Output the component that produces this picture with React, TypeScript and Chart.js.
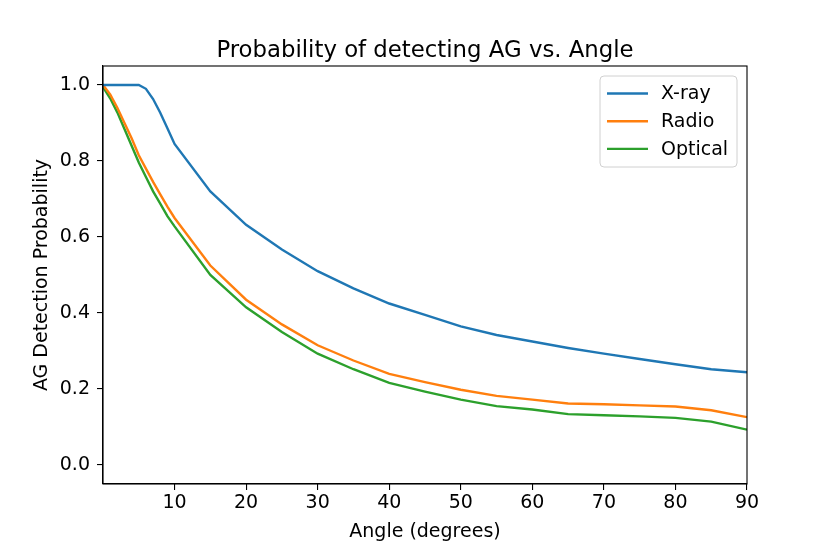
import React, { useEffect, useRef } from "react";
import { Chart, registerables } from "chart.js";

Chart.register(...registerables);

const angles = [0, 1, 2, 3, 4, 5, 6, 7, 8, 9, 10, 15, 20, 25, 30, 35, 40, 45, 50, 55, 60, 65, 70, 75, 80, 85, 90];
const xray = [1.0, 1.0, 1.0, 1.0, 1.0, 1.0, 0.99, 0.963, 0.927, 0.886, 0.845, 0.72, 0.632, 0.567, 0.51, 0.465, 0.425, 0.395, 0.365, 0.342, 0.325, 0.308, 0.293, 0.279, 0.265, 0.252, 0.244];
const radio = [1.0, 0.975, 0.94, 0.9, 0.86, 0.815, 0.78, 0.745, 0.712, 0.68, 0.65, 0.525, 0.435, 0.37, 0.315, 0.275, 0.24, 0.218, 0.198, 0.182, 0.172, 0.162, 0.16, 0.157, 0.154, 0.144, 0.126];
const optical = [0.995, 0.965, 0.928, 0.884, 0.84, 0.796, 0.758, 0.72, 0.688, 0.655, 0.628, 0.5, 0.415, 0.35, 0.293, 0.252, 0.216, 0.193, 0.172, 0.155, 0.146, 0.134, 0.131, 0.128, 0.124, 0.114, 0.093];
const xTicks = [10, 20, 30, 40, 50, 60, 70, 80, 90];
const yTicks = [0, 0.2, 0.4, 0.6, 0.8, 1.0];
const seriesNames = ["X-ray", "Radio", "Optical"];
const seriesColors = ["#1f77b4", "#ff7f0e", "#2ca02c"];
const chartTitle = "Probability of detecting AG vs. Angle";

const FONT = "'DejaVu Sans', sans-serif";

const framePlugin = {
  id: "frameAndLegend",
  afterDatasetsDraw(chart: any) {
    const { ctx, chartArea } = chart;
    ctx.save();
    // spines
    ctx.strokeStyle = "#000";
    ctx.lineWidth = 1.1;
    ctx.strokeRect(chartArea.left, chartArea.top, chartArea.right - chartArea.left, chartArea.bottom - chartArea.top);
    // title
    ctx.fillStyle = "#000";
    ctx.font = `22.8px ${FONT}`;
    ctx.textAlign = "center";
    ctx.textBaseline = "alphabetic";
    ctx.fillText(chartTitle, (chartArea.left + chartArea.right) / 2, chartArea.top - 9.5);
    // legend
    const bw = 137, bh = 91;
    const bx = chartArea.right - 10 - bw;
    const by = chartArea.top + 10;
    const r = 4;
    ctx.beginPath();
    ctx.moveTo(bx + r, by);
    ctx.lineTo(bx + bw - r, by);
    ctx.quadraticCurveTo(bx + bw, by, bx + bw, by + r);
    ctx.lineTo(bx + bw, by + bh - r);
    ctx.quadraticCurveTo(bx + bw, by + bh, bx + bw - r, by + bh);
    ctx.lineTo(bx + r, by + bh);
    ctx.quadraticCurveTo(bx, by + bh, bx, by + bh - r);
    ctx.lineTo(bx, by + r);
    ctx.quadraticCurveTo(bx, by, bx + r, by);
    ctx.closePath();
    ctx.fillStyle = "rgba(255,255,255,0.8)";
    ctx.fill();
    ctx.strokeStyle = "#d0d0d0";
    ctx.lineWidth = 1;
    ctx.stroke();
    chart.data.datasets.forEach((ds: any, i: number) => {
      const yy = by + 17.5 + i * 27.7;
      ctx.beginPath();
      ctx.strokeStyle = ds.borderColor;
      ctx.lineWidth = 2.4;
      ctx.moveTo(bx + 7, yy);
      ctx.lineTo(bx + 48, yy);
      ctx.stroke();
      ctx.fillStyle = "#000";
      ctx.font = `19px ${FONT}`;
      ctx.textBaseline = "middle";
      ctx.textAlign = "left";
      ctx.fillText(ds.label, bx + 61, yy + 1);
    });
    ctx.restore();
  },
};

export default function App() {
  const ref = useRef<HTMLCanvasElement>(null);
  useEffect(() => {
    if (!ref.current) return;
    const datasets = [xray, radio, optical].map((vals, i) => ({
      label: seriesNames[i],
      data: angles.map((a, j) => ({ x: a, y: vals[j] })),
      borderColor: seriesColors[i],
      backgroundColor: seriesColors[i],
      borderWidth: 2.4,
      pointRadius: 0,
      tension: 0,
      fill: false,
    }));
    const chart = new Chart(ref.current, {
      type: "line",
      data: { datasets },
      plugins: [framePlugin],
      options: {
        responsive: false,
        animation: false,
        layout: { padding: { left: 0, right: 83, top: 66, bottom: 0 } },
        plugins: {
          legend: { display: false },
          tooltip: { enabled: false },
          title: { display: false },
        },
        scales: {
          x: {
            type: "linear",
            min: 0,
            max: 90,
            afterBuildTicks: (s: any) => {
              s.ticks = xTicks.map((v) => ({ value: v }));
            },
            afterFit: (s: any) => {
              s.height = 70;
            },
            grid: { drawOnChartArea: false, drawTicks: true, tickLength: 6, color: "#000", lineWidth: 1.1 },
            border: { display: true, color: "#000", width: 1.1 },
            ticks: {
              color: "#000",
              font: { family: FONT, size: 19 },
              padding: 2,
              maxRotation: 0,
              autoSkip: false,
              callback: (v: any) => String(v),
            },
            title: {
              display: true,
              text: "Angle (degrees)",
              color: "#000",
              font: { family: FONT, size: 19, lineHeight: 1.2 },
              padding: { top: 0, bottom: 11 },
            },
          },
          y: {
            type: "linear",
            min: -0.05,
            max: 1.05,
            afterBuildTicks: (s: any) => {
              s.ticks = yTicks.map((v) => ({ value: v }));
            },
            afterFit: (s: any) => {
              s.width = 103;
            },
            grid: { drawOnChartArea: false, drawTicks: true, tickLength: 6, color: "#000", lineWidth: 1.1 },
            border: { display: true, color: "#000", width: 1.1 },
            ticks: {
              color: "#000",
              font: { family: FONT, size: 19 },
              padding: 7,
              autoSkip: false,
              callback: (v: any) => Number(v).toFixed(1),
            },
            title: {
              display: true,
              text: "AG Detection Probability",
              color: "#000",
              font: { family: FONT, size: 19, lineHeight: 1.2 },
              padding: { top: 30.5, bottom: 0 },
            },
          },
        },
      },
    } as any);
    return () => chart.destroy();
  }, []);
  return (
    <div style={{ position: "absolute", left: 0, top: 0, width: 830, height: 554, background: "#fff" }}>
      <canvas ref={ref} width={830} height={554} style={{ display: "block" }} />
    </div>
  );
}
